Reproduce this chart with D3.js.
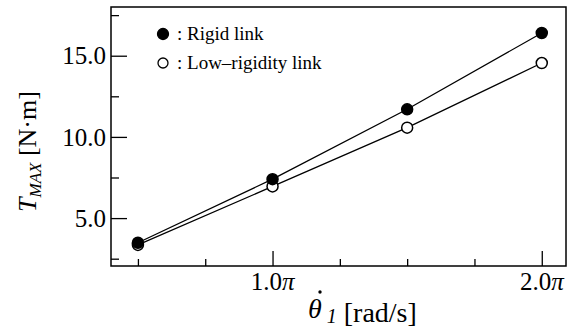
<!DOCTYPE html>
<html>
<head>
<meta charset="utf-8">
<script src="https://cdn.jsdelivr.net/npm/d3@7"></script>
<style>
  body { margin: 0; background: #fff; }
  svg { display: block; }
  svg text { font-family: "Liberation Serif", "DejaVu Serif", serif; fill: #000; }
</style>
</head>
<body>
<svg width="572" height="331"></svg>
<script>
// speed in units of pi rad/s
const speeds = [0.5, 1.0, 1.5, 2.0]
const rigid = [3.48, 7.4, 11.7, 16.4]
const lowRigidity = [3.35, 6.95, 10.57, 14.55]

const yMajor = [5, 10, 15]
const yMinor = [2.5, 7.5, 12.5, 17.5]
const xMajor = [1.0, 2.0]
const xMinor = [0.5, 0.75, 1.25, 1.5, 1.75]

const svg = d3.select('svg')
const plotLeft = 111, plotRight = 566, plotTop = 7, plotBottom = 266

const x = d3.scaleLinear().domain([0.4, 2.09]).range([plotLeft, plotRight])
const y = d3.scaleLinear().domain([2.05, 18.0]).range([plotBottom, plotTop])

// frame
svg.append('rect')
    .attr('x', plotLeft).attr('y', plotTop)
    .attr('width', plotRight - plotLeft).attr('height', plotBottom - plotTop)
    .attr('fill', 'none').attr('stroke', '#000').attr('stroke-width', 1.5)

// y axis: ticks point inward
const yAxis = svg.append('g').attr('transform', `translate(${plotLeft},0)`)
yAxis.call(d3.axisRight(y).tickValues(yMajor).tickSize(16).tickFormat(''))
yAxis.append('g').call(d3.axisRight(y).tickValues(yMinor).tickSize(8).tickFormat(''))
yAxis.selectAll('.domain').remove()
yAxis.selectAll('line').attr('stroke', '#000').attr('stroke-width', 1.3)

svg.append('g').selectAll('text')
    .data(yMajor)
    .enter()
    .append('text')
    .attr('x', plotLeft - 5)
    .attr('y', d => y(d))
    .attr('dy', '0.35em')
    .attr('text-anchor', 'end')
    .attr('font-size', 25)
    .text(d => d.toFixed(1))

// x axis: ticks point inward
const xAxis = svg.append('g').attr('transform', `translate(0,${plotBottom})`)
xAxis.call(d3.axisTop(x).tickValues(xMajor).tickSize(15).tickFormat(''))
xAxis.append('g').call(d3.axisTop(x).tickValues(xMinor).tickSize(7).tickFormat(''))
xAxis.selectAll('.domain').remove()
xAxis.selectAll('line').attr('stroke', '#000').attr('stroke-width', 1.3)

svg.append('g').selectAll('text')
    .data(xMajor)
    .enter()
    .append('text')
    .attr('x', d => x(d))
    .attr('y', plotBottom + 24)
    .attr('text-anchor', 'middle')
    .attr('font-size', 25)
    .each(function (d) {
        const t = d3.select(this)
        t.append('tspan').text(d.toFixed(1))
        t.append('tspan').attr('font-style', 'italic').text('π')
    })

// series
const series = [
    { name: 'Rigid link', values: rigid, fill: '#000' },
    { name: 'Low\u2013rigidity link', values: lowRigidity, fill: '#fff' }
]

const line = d3.line()
    .x((d, i) => x(speeds[i]))
    .y(d => y(d))

series.forEach(s => {
    svg.append('path')
        .datum(s.values)
        .attr('d', line)
        .attr('fill', 'none')
        .attr('stroke', '#000')
        .attr('stroke-width', 1.3)
})

series.slice().reverse().forEach(s => {
    svg.append('g').selectAll('circle')
        .data(s.values)
        .enter()
        .append('circle')
        .attr('cx', (d, i) => x(speeds[i]))
        .attr('cy', d => y(d))
        .attr('r', 5.5)
        .attr('fill', s.fill)
        .attr('stroke', '#000')
        .attr('stroke-width', 1.5)
})

// legend
const legend = svg.append('g').selectAll('g')
    .data(series)
    .enter()
    .append('g')
    .attr('transform', (d, i) => `translate(163,${34 + i * 29})`)

legend.append('circle')
    .attr('r', (d, i) => i === 0 ? 5.5 : 5)
    .attr('fill', d => d.fill)
    .attr('stroke', '#000')
    .attr('stroke-width', 1.3)

legend.append('text')
    .attr('x', 14)
    .attr('y', 6)
    .attr('font-size', 19)
    .text(d => ': ' + d.name)

// y title
const yTitle = svg.append('text')
    .attr('transform', 'translate(36,212) rotate(-90)')
    .attr('font-size', 26)
yTitle.append('tspan').attr('font-style', 'italic').text('T')
yTitle.append('tspan').attr('font-style', 'italic').attr('font-size', 17).attr('dy', 5).text('MAX')
yTitle.append('tspan').attr('dy', -5).text(' [N·m]')

// x title (theta with a dot accent)
const xTitle = svg.append('text')
    .attr('x', 308)
    .attr('y', 318)
    .attr('font-size', 28)
xTitle.append('tspan').attr('font-style', 'italic').text('θ')
xTitle.append('tspan').attr('font-style', 'italic').attr('font-size', 20).attr('dx', 5).attr('dy', 5).text('1')
xTitle.append('tspan').attr('dy', -1).text(' [rad/s]')
svg.append('circle')
    .attr('cx', 320)
    .attr('cy', 292)
    .attr('r', 1.7)
    .attr('fill', '#000')
</script>
</body>
</html>
